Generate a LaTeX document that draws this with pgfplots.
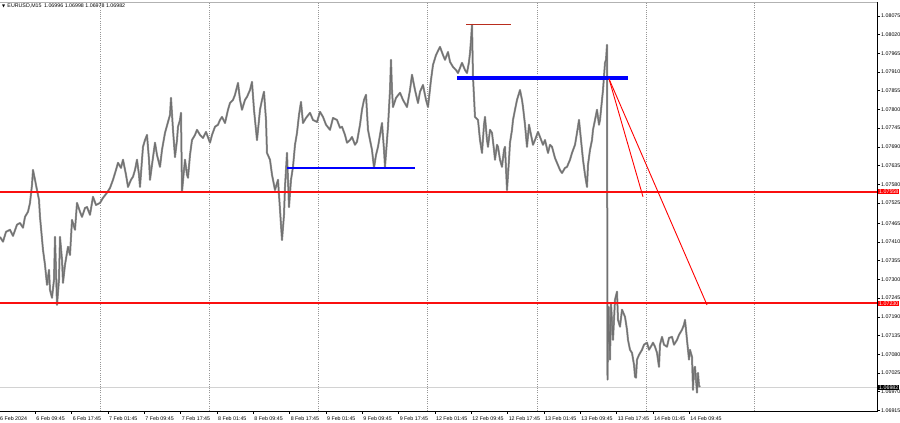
\documentclass[border=0pt]{standalone}
\usepackage{pgfplots}
\pgfplotsset{compat=1.18}
\usepackage{fontspec}
\setmainfont{Liberation Sans}
\newfontfamily\symfont{DejaVu Sans}
\definecolor{barc}{RGB}{112,112,112}
\definecolor{barl}{RGB}{150,150,150}
\definecolor{sep}{RGB}{150,150,150}
\definecolor{bluel}{RGB}{0,0,255}
\definecolor{redl}{RGB}{255,0,0}
\definecolor{redh}{RGB}{250,15,15}
\definecolor{darkredl}{RGB}{185,45,30}
\definecolor{curr}{RGB}{210,210,210}
\newcommand{\fs}{\fontsize{5.3}{6}\selectfont}
\begin{document}
\begin{tikzpicture}
\useasboundingbox (0,0) rectangle (900pt,423pt);
\begin{axis}[
 at={(-1.5pt,12pt)}, anchor=south west,
 scale only axis, width=878.5pt, height=409pt,
 xmin=-1.5, xmax=877, ymin=1.06913, ymax=1.08116,
 clip=false,
 axis line style={draw=none},
 tick align=outside, major tick length=3pt,
 tick style={black, line width=0.5pt},
 xtick pos=left, ytick pos=right,
 xtick={-1.05,35.28,71.61,107.94,144.27,180.60,216.93,253.26,289.59,325.92,362.25,398.58,434.91,471.24,507.57,543.90,580.23,616.56,652.89,689.22},
 xticklabels={6 Feb 2024,6 Feb 09:45,6 Feb 17:45,7 Feb 01:45,7 Feb 09:45,7 Feb 17:45,8 Feb 01:45,8 Feb 09:45,8 Feb 17:45,9 Feb 01:45,9 Feb 09:45,9 Feb 17:45,12 Feb 01:45,12 Feb 09:45,12 Feb 17:45,13 Feb 01:45,13 Feb 09:45,13 Feb 17:45,14 Feb 01:45,14 Feb 09:45},
 xticklabel style={anchor=north west, inner sep=0pt, xshift=1pt, yshift=-2pt, font=\fs},
 ytick={1.06915,1.06970,1.07025,1.07080,1.07135,1.07190,1.07245,1.07300,1.07355,1.07410,1.07465,1.07525,1.07580,1.07635,1.07690,1.07745,1.07800,1.07855,1.07910,1.07965,1.08020,1.08075},
 yticklabels={1.06915,1.06970,1.07025,1.07080,1.07135,1.07190,1.07245,1.07300,1.07355,1.07410,1.07465,1.07525,1.07580,1.07635,1.07690,1.07745,1.07800,1.07855,1.07910,1.07965,1.08020,1.08075},
 yticklabel style={anchor=west, inner sep=0pt, xshift=1pt, font=\fs},
]
\pgfplotstableread{
x y
0 1.07425
3 1.07411
6 1.07440
10 1.07446
13 1.07428
17 1.07461
20 1.07466
23 1.07452
25 1.07484
28 1.07499
30 1.07525
32 1.07578
33 1.07622
35 1.07593
37 1.07563
39 1.07534
40 1.07484
43 1.07387
45 1.07343
47 1.07284
49 1.07328
50 1.07269
52 1.07246
54 1.07299
55 1.07425
56 1.07328
57 1.07225
59 1.07299
60 1.07425
62 1.07358
63 1.07290
65 1.07343
68 1.07396
70 1.07372
72 1.07475
75 1.07446
77 1.07525
80 1.07499
82 1.07484
85 1.07510
87 1.07513
90 1.07490
93 1.07543
96 1.07519
100 1.07525
103 1.07540
107 1.07555
110 1.07569
113 1.07593
116 1.07622
118 1.07643
121 1.07628
123 1.07652
126 1.07608
128 1.07572
131 1.07593
133 1.07602
135 1.07622
137 1.07652
139 1.07608
140 1.07572
142 1.07652
143 1.07690
145 1.07710
147 1.07725
149 1.07652
150 1.07593
152 1.07637
155 1.07702
157 1.07666
160 1.07631
162 1.07681
165 1.07731
168 1.07763
170 1.07784
171 1.07834
173 1.07740
175 1.07660
177 1.07710
178 1.07749
180 1.07769
181 1.07790
182 1.07558
184 1.07622
185 1.07652
187 1.07608
188 1.07599
190 1.07666
192 1.07710
195 1.07725
197 1.07740
200 1.07725
203 1.07716
206 1.07734
210 1.07702
212 1.07725
215 1.07749
218 1.07755
220 1.07769
222 1.07778
225 1.07760
228 1.07799
230 1.07819
233 1.07828
235 1.07843
238 1.07878
240 1.07828
242 1.07799
245 1.07828
247 1.07837
250 1.07857
252 1.07881
254 1.07799
257 1.07710
259 1.07769
260 1.07799
262 1.07828
264 1.07852
266 1.07769
267 1.07672
270 1.07652
272 1.07608
275 1.07563
278 1.07593
280 1.07505
282 1.07416
284 1.07490
285 1.07572
287 1.07672
289 1.07513
291 1.07593
293 1.07631
295 1.07696
297 1.07731
299 1.07784
301 1.07822
303 1.07760
306 1.07775
310 1.07790
313 1.07769
317 1.07763
320 1.07793
323 1.07778
326 1.07755
330 1.07740
333 1.07775
337 1.07769
340 1.07746
342 1.07749
345 1.07725
347 1.07702
350 1.07710
352 1.07719
355 1.07696
357 1.07705
360 1.07755
362 1.07799
364 1.07828
366 1.07843
368 1.07740
370 1.07710
372 1.07681
374 1.07628
376 1.07666
378 1.07690
380 1.07725
382 1.07760
384 1.07681
385 1.07631
387 1.07710
388 1.07749
390 1.07857
391 1.07946
392 1.07857
393 1.07807
396 1.07834
400 1.07849
403 1.07828
407 1.07807
410 1.07857
412 1.07902
415 1.07857
418 1.07819
420 1.07852
423 1.07872
426 1.07828
428 1.07807
431 1.07887
433 1.07931
436 1.07960
440 1.07984
443 1.07960
445 1.07946
448 1.07969
450 1.07940
453 1.07925
456 1.07916
458 1.07907
460 1.07922
462 1.07937
465 1.07916
467 1.07907
469 1.07940
470 1.07966
471 1.08004
472 1.08049
473 1.07896
475 1.07778
478 1.07769
480 1.07710
482 1.07672
484 1.07755
485 1.07778
487 1.07710
488 1.07690
490 1.07740
492 1.07731
494 1.07681
495 1.07652
497 1.07696
498 1.07690
500 1.07652
502 1.07631
504 1.07681
505 1.07690
507 1.07563
509 1.07652
510 1.07702
512 1.07740
513 1.07769
515 1.07799
517 1.07828
520 1.07857
522 1.07828
523 1.07807
525 1.07755
527 1.07690
529 1.07755
530 1.07740
533 1.07696
535 1.07710
538 1.07734
540 1.07719
543 1.07696
545 1.07710
548 1.07672
550 1.07696
552 1.07690
555 1.07657
557 1.07643
560 1.07622
562 1.07613
565 1.07628
567 1.07631
570 1.07652
572 1.07672
575 1.07696
577 1.07731
579 1.07769
581 1.07710
583 1.07652
585 1.07608
587 1.07572
588 1.07637
590 1.07681
592 1.07710
593 1.07740
595 1.07769
597 1.07799
599 1.07755
600 1.07769
602 1.07828
603 1.07857
605 1.07937
606 1.07946
607 1.07990
607.5 1.07005
608.5 1.07219
610 1.07064
611 1.07231
613 1.07122
615 1.07240
617 1.07264
618 1.07181
620 1.07161
622 1.07211
625 1.07190
627 1.07152
628 1.07122
630 1.07093
632 1.07084
634 1.07049
635 1.07014
636 1.07011
637 1.07064
639 1.07078
642 1.07093
644 1.07108
647 1.07114
649 1.07093
652 1.07108
653 1.07114
655 1.07102
657 1.07084
659 1.07043
660 1.07108
662 1.07131
664 1.07108
667 1.07102
669 1.07128
672 1.07131
674 1.07108
677 1.07122
679 1.07137
682 1.07152
684 1.07167
685 1.07181
686 1.07152
687 1.07122
689 1.07064
690 1.07093
692 1.07072
693 1.06975
694 1.07034
695 1.07043
696 1.07005
697 1.06967
698 1.07025
699 1.06988
700 1.06984
}\price
% frame
\draw[black, line width=0.5pt] (axis cs:0,1.06913) -- (axis cs:877,1.06913) -- (axis cs:877,1.08116);
\draw[gray!60, line width=0.5pt] (axis cs:0,1.08116) -- (axis cs:877,1.08116);
% day separators
\draw[sep, dash pattern=on 1pt off 1.2pt, line width=0.5pt] (axis cs:100,1.06913) -- (axis cs:100,1.08116);
\draw[sep, dash pattern=on 1pt off 1.2pt, line width=0.5pt] (axis cs:209,1.06913) -- (axis cs:209,1.08116);
\draw[sep, dash pattern=on 1pt off 1.2pt, line width=0.5pt] (axis cs:318,1.06913) -- (axis cs:318,1.08116);
\draw[sep, dash pattern=on 1pt off 1.2pt, line width=0.5pt] (axis cs:427,1.06913) -- (axis cs:427,1.08116);
\draw[sep, dash pattern=on 1pt off 1.2pt, line width=0.5pt] (axis cs:537,1.06913) -- (axis cs:537,1.08116);
\draw[sep, dash pattern=on 1pt off 1.2pt, line width=0.5pt] (axis cs:646,1.06913) -- (axis cs:646,1.08116);
\draw[sep, dash pattern=on 1pt off 1.2pt, line width=0.5pt] (axis cs:754,1.06913) -- (axis cs:754,1.08116);
% current price line
\addplot[color=curr, line width=0.7pt, forget plot] coordinates {(0,1.06982) (877,1.06982)};
% price
\addplot[color=barl, line width=2pt, line join=round, forget plot] table[x=x,y=y] {\price};
\addplot[color=barc, line width=1pt, line join=round, forget plot] table[x=x,y=y] {\price};
% support / resistance lines
\addplot[color=redh, line width=1.5pt, forget plot] coordinates {(0,1.075565) (876.5,1.075565)};
\addplot[color=redh, line width=1.5pt, forget plot] coordinates {(0,1.07230) (876.5,1.07230)};
\addplot[color=darkredl, line width=0.9pt, forget plot] coordinates {(466,1.08049) (511,1.08049)};
\addplot[color=bluel, line width=2pt, forget plot] coordinates {(287,1.07629) (415,1.07629)};
\addplot[color=bluel, line width=4.2pt, forget plot] coordinates {(457,1.07893) (628,1.07893)};
\addplot[color=red, line width=0.9pt, forget plot] coordinates {(609,1.07890) (643,1.07543)};
\addplot[color=red, line width=0.9pt, forget plot] coordinates {(609,1.07890) (707,1.07225)};
\coordinate (L1) at (axis cs:877,1.07558);
\coordinate (L2) at (axis cs:877,1.07230);
\coordinate (L3) at (axis cs:877,1.06982);
\coordinate (T) at (axis cs:0,1.08116);
\end{axis}
\node[anchor=west, fill=redl, text=white, font=\fs, inner xsep=0.8pt, inner ysep=0.6pt, xshift=1.2pt] at (L1) {1.07558};
\node[anchor=west, fill=redl, text=white, font=\fs, inner xsep=0.8pt, inner ysep=0.6pt, xshift=1.2pt] at (L2) {1.07230};
\node[anchor=west, fill=black, text=white, font=\fs, inner xsep=0.8pt, inner ysep=0.6pt, xshift=1.2pt] at (L3) {1.06982};
\node[anchor=west, font=\fs, inner sep=0pt, xshift=2pt, yshift=-4pt] at (T) {{\symfont\fontsize{4}{5}\selectfont ▼}\hspace{2.2pt}EURUSD,M15\hspace{2.5pt}1.06996 1.06998 1.06978 1.06982};
\end{tikzpicture}
\end{document}
